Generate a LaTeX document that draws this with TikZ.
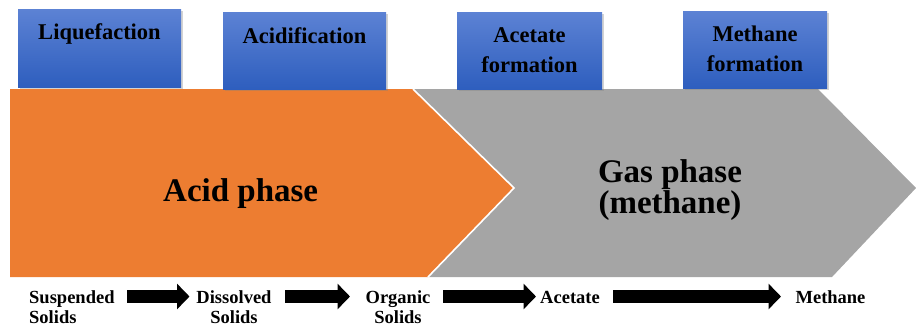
\documentclass[tikz,border=0pt]{standalone}
\usepackage{fontspec}
\setmainfont{Liberation Serif}
\usetikzlibrary{arrows.meta,shadows}
\definecolor{orng}{RGB}{237,125,49}
\definecolor{gry}{RGB}{165,165,165}
\definecolor{btop}{RGB}{92,130,212}
\definecolor{bbot}{RGB}{46,94,190}
\tikzset{
  phasebox/.style={draw=none, top color=btop, bottom color=bbot, inner sep=0pt, anchor=north west,
    drop shadow={shadow xshift=1.5pt, shadow yshift=-2pt, opacity=0.35}},
  boxtext/.style={font=\bfseries\fontsize{22.5}{29.5}\selectfont, align=center, inner sep=0pt, anchor=base},
  bigtext/.style={font=\bfseries\fontsize{33}{31}\selectfont, align=center, inner sep=0pt, anchor=base},
  smalltext/.style={font=\bfseries\fontsize{18.5}{20}\selectfont, inner sep=0pt, anchor=base},
  blockarrow/.style={line width=13pt, -{Triangle[length=12.5pt,width=25pt]}}
}
\begin{document}
\begin{tikzpicture}[x=1pt,y=-1pt]
\useasboundingbox (0,0) rectangle (916,330);
% phases
\fill[gry] (413,89) -- (818,89) -- (916,188) -- (832,277) -- (428,277) -- (514,188) -- cycle;
\fill[orng] (10,89) -- (413,89) -- (514,188) -- (428,277) -- (10,277) -- cycle;
\draw[white, line width=1.6pt] (413,89) -- (514,188) -- (428,277);
\node[bigtext, anchor=base west] (acid) at (163,201) {Acid phase};
\node[bigtext] (gas) at (670,213) {Gas phase\\(methane)};
% top boxes
\node[phasebox, minimum width=163pt, minimum height=78pt] (b1) at (18,9) {};
\node[phasebox, minimum width=163pt, minimum height=77pt] (b2) at (223,12) {};
\node[phasebox, minimum width=145pt, minimum height=77pt] (b3) at (457,12) {};
\node[phasebox, minimum width=144pt, minimum height=77pt] (b4) at (683,11) {};
\node[boxtext] (t1) at (99.5,39) {Liquefaction};
\node[boxtext] (t2) at (304.5,43) {Acidification};
\node[boxtext] (t3) at (529.5,72) {Acetate\\formation};
\node[boxtext] (t4) at (755,71) {Methane\\formation};
% bottom labels
\node[smalltext, anchor=base west, align=left] (l1) at (29,323) {Suspended\\Solids};
\node[smalltext, align=center] (l2) at (234,323) {Dissolved\\Solids};
\node[smalltext, align=center] (l3) at (398,323) {Organic\\Solids};
\node[smalltext] (l4) at (570,303) {Acetate};
\node[smalltext] (l5) at (830.5,303) {Methane};
% arrows
\coordinate (a1s) at (127,296.5); \coordinate (a1e) at (189.5,296.5);
\coordinate (a2s) at (285,296.5); \coordinate (a2e) at (350,296.5);
\coordinate (a3s) at (443,296.5); \coordinate (a3e) at (536,296.5);
\coordinate (a4s) at (613,296.5); \coordinate (a4e) at (781,296.5);
\draw[blockarrow] (a1s) -- (a1e);
\draw[blockarrow] (a2s) -- (a2e);
\draw[blockarrow] (a3s) -- (a3e);
\draw[blockarrow] (a4s) -- (a4e);
\end{tikzpicture}
\end{document}
